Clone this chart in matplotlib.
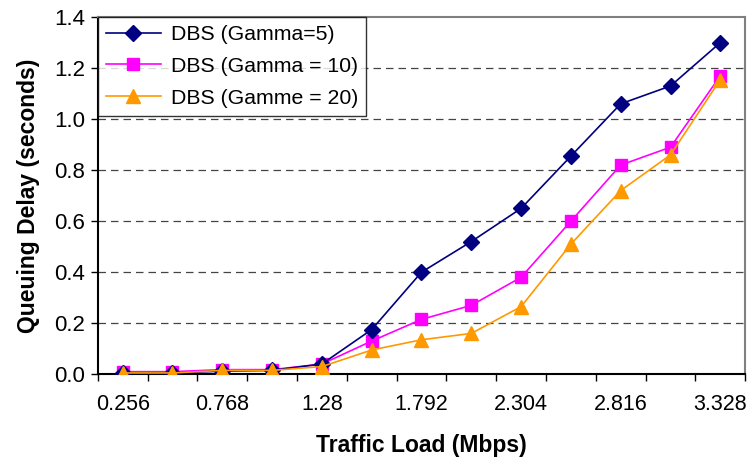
import matplotlib.pyplot as plt
import numpy as np

plt.rcParams['font.family'] = ['Liberation Sans', 'DejaVu Sans']

loads = ['0.256', '0.512', '0.768', '1.024', '1.28', '1.536', '1.792',
         '2.048', '2.304', '2.56', '2.816', '3.072', '3.328']
gamma5 = [0.005, 0.005, 0.012, 0.015, 0.04, 0.175, 0.40, 0.52, 0.65, 0.855, 1.06, 1.13, 1.30]
gamma10 = [0.01, 0.01, 0.018, 0.018, 0.04, 0.13, 0.215, 0.27, 0.38, 0.60, 0.82, 0.89, 1.17]
gamma20 = [0.005, 0.005, 0.015, 0.015, 0.03, 0.095, 0.135, 0.16, 0.265, 0.51, 0.72, 0.86, 1.155]

fig = plt.figure(figsize=(7.52, 4.62), dpi=100)
ax = fig.add_axes([0.130, 0.190, 0.861, 0.773])

x = np.arange(len(loads))
ax.plot(x, gamma5, color='#000080', marker='D', markersize=8, lw=1.2, label='DBS (Gamma=5)', zorder=5)
ax.plot(x, gamma10, color='#FF00FF', marker='s', markersize=8.5, lw=1.2, label='DBS (Gamma = 10)', zorder=4)
ax.plot(x, gamma20, color='#FF9900', marker='^', markersize=10, lw=1.2, label='DBS (Gamme = 20)', zorder=6)

ax.set_xlim(-0.5, len(loads) - 0.5)
ax.set_ylim(0, 1.4)
ax.set_yticks(np.arange(0, 1.41, 0.2))
ax.set_yticklabels(['%.1f' % v for v in np.arange(0, 1.41, 0.2)])
ax.set_xticks(x[::2])
ax.set_xticklabels(loads[::2])
ax.set_xticks(np.arange(-0.5, len(loads), 1.0), minor=True)
ax.tick_params(axis='x', which='major', length=0, pad=14, labelsize=15.5)
ax.tick_params(axis='x', which='minor', length=5, width=1.0, direction='out')
ax.tick_params(axis='y', length=5, width=1.0, labelsize=16, pad=4)

for v in np.arange(0.2, 1.3, 0.2):
    ax.axhline(v, color='#444444', lw=0.9, ls=(0, (6, 4)), zorder=1)

for side in ['left', 'bottom']:
    ax.spines[side].set_color('black')
    ax.spines[side].set_linewidth(1.5)
for side in ['top', 'right']:
    ax.spines[side].set_color('#808080')
    ax.spines[side].set_linewidth(1.5)

ax.set_xlabel('Traffic Load (Mbps)', fontsize=16.5, fontweight='bold', labelpad=14)
ax.set_ylabel('Queuing Delay (seconds)', fontsize=16.5, fontweight='bold', labelpad=10)

leg = ax.legend(loc='upper left', bbox_to_anchor=(0, 1), borderaxespad=0, fontsize=15.3,
                frameon=True, fancybox=False, handlelength=2.6, handletextpad=0.45,
                borderpad=0.38, labelspacing=0.6)
leg.get_frame().set_edgecolor('black')
leg.get_frame().set_linewidth(1.0)

fig.savefig('out.png', dpi=100)
